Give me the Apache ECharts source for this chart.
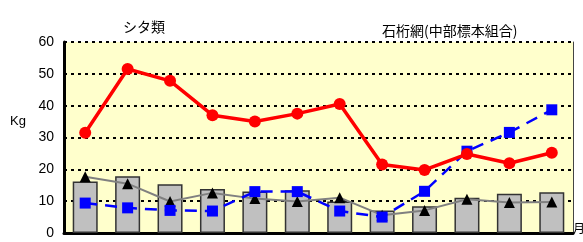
<!DOCTYPE html>
<html>
<head>
<meta charset="utf-8">
<script src="https://cdn.jsdelivr.net/npm/echarts@6/dist/echarts.min.js"></script>
<style>
  html, body { margin: 0; padding: 0; background: #fff; }
  #chart { width: 583px; height: 242px; }
</style>
</head>
<body>
<div id="chart"></div>
<script>
const months = ["1", "2", "3", "4", "5", "6", "7", "8", "9", "10", "11", "12"];
const barValues = [16.2, 17.8, 15.3, 13.8, 13.0, 13.4, 9.9, 7.1, 8.4, 11.1, 12.3, 12.8];
const redValues = [31.5, 51.5, 47.8, 37.0, 35.0, 37.5, 40.5, 21.5, 19.8, 24.8, 21.9, 25.2];
const blueValues = [9.4, 7.9, 7.1, 6.9, 13.0, 13.0, 6.9, 5.0, 13.1, 25.7, 31.6, 38.7];
const blackValues = [17.7, 15.5, 9.9, 12.6, 10.8, 9.9, 11.1, 5.6, 7.1, 10.6, 9.6, 9.7];
const yTicks = [0, 10, 20, 30, 40, 50, 60];

const chart = echarts.init(document.getElementById("chart"));
const font = "Liberation Sans, Arial, sans-serif";

chart.setOption({
  animation: false,
  textStyle: { fontFamily: font },
  grid: {
    left: 64, right: 10, top: 42, bottom: 9,
    show: true, backgroundColor: "#ffffcc", borderWidth: 0
  },
  title: [
    {
      text: "シタ類", left: 118, top: 15,
      textStyle: { fontSize: 14, fontWeight: "normal", color: "#000", fontFamily: "Noto Sans CJK JP" }
    },
    {
      text: "石桁網(中部標本組合)", left: 377, top: 19,
      textStyle: { fontSize: 14, fontWeight: "normal", color: "#000", fontFamily: "Noto Sans CJK JP" }
    }
  ],
  graphic: [
    { type: "text", left: 10, top: 115, style: { text: "Kg", fontSize: 13, fill: "#000", fontFamily: font } },
    { type: "text", left: 573, top: 222, style: { text: "月", fontSize: 12, fill: "#000", fontFamily: "Noto Sans CJK JP" } }
  ],
  xAxis: {
    type: "category",
    data: months,
    axisLine: { lineStyle: { color: "#000", width: 3 } },
    axisTick: { show: false },
    axisLabel: { show: false }
  },
  yAxis: [
    {
      type: "value", min: yTicks[0], max: yTicks[yTicks.length - 1], interval: 10,
      axisLine: { show: true, lineStyle: { color: "#000", width: 3 } },
      axisTick: { show: false },
      axisLabel: { color: "#000", fontSize: 14, margin: 10, fontFamily: font },
      splitLine: { lineStyle: { color: "#000", width: 2, type: [3, 4] } }
    },
    {
      type: "value", position: "right", min: 0, max: 60,
      axisLine: { show: true, lineStyle: { color: "#444", width: 1 } },
      axisTick: { show: false }, axisLabel: { show: false }, splitLine: { show: false }
    }
  ],
  series: [
    {
      type: "bar", data: barValues, barWidth: 25, z: 1,
      itemStyle: { color: "#c0c0c0", borderColor: "#333", borderWidth: 1.5 }
    },
    {
      type: "line", data: blackValues, z: 3,
      symbol: "triangle", symbolSize: 11,
      itemStyle: { color: "#000" },
      lineStyle: { color: "#808080", width: 2 }
    },
    {
      type: "line", data: blueValues, z: 4,
      symbol: "rect", symbolSize: 11,
      itemStyle: { color: "#0000ff" },
      lineStyle: { color: "#0000ff", width: 2.5, type: [12, 8] }
    },
    {
      type: "line", data: redValues, z: 5,
      symbol: "circle", symbolSize: 12,
      itemStyle: { color: "#ff0000" },
      lineStyle: { color: "#ff0000", width: 3.5 }
    }
  ]
});
</script>
</body>
</html>
